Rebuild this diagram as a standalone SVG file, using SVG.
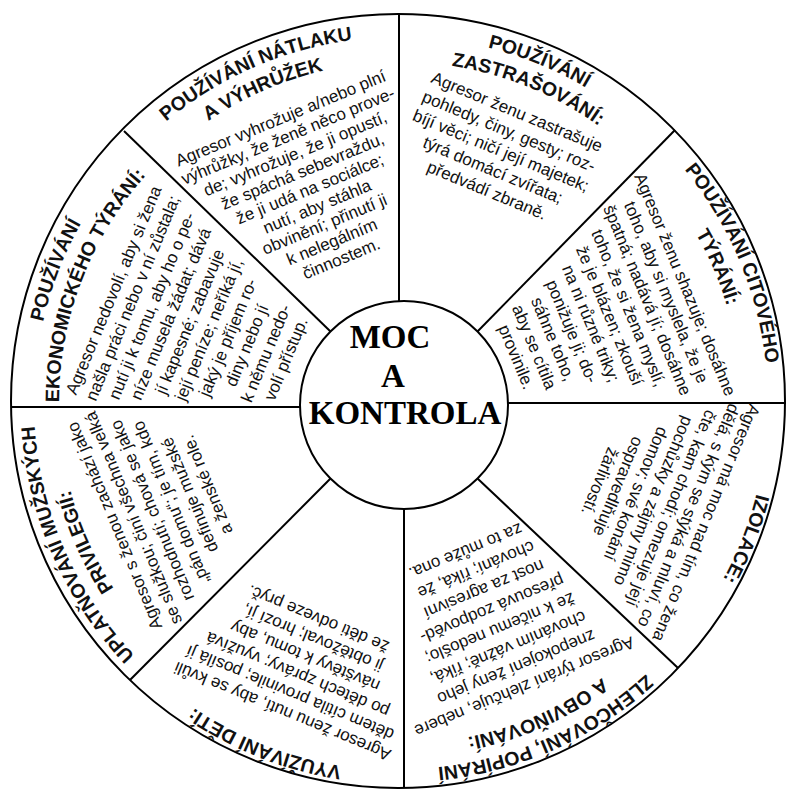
<svg xmlns="http://www.w3.org/2000/svg" xmlns:xlink="http://www.w3.org/1999/xlink" width="786" height="790" viewBox="0 0 786 790">
<defs>
<style>
.ttl{font-family:"Liberation Sans",Arial,sans-serif;font-weight:bold;font-size:19.5px;fill:#111}
.bd{font-family:"Liberation Sans",Arial,sans-serif;font-size:17px;fill:#111;text-anchor:middle}
.ctr{font-family:"Liberation Serif","Times New Roman",serif;font-weight:bold;font-size:33px;fill:#000;text-anchor:middle}
.ln{stroke:#000;stroke-width:2;fill:none}
</style>
<path id="a366" d="M -235.3 -280.4 A 366 366 0 0 1 235.3 -280.4"/>
<path id="a368" d="M -236.5 -281.9 A 368 368 0 0 1 236.5 -281.9"/>
<path id="a341" d="M -219.2 -261.2 A 341 341 0 0 1 219.2 -261.2"/>
</defs>
<rect width="786" height="790" fill="#fff"/>
<circle class="ln" cx="398" cy="401" r="387"/>
<g id="spokes" class="ln">
<line x1="399" y1="15" x2="399" y2="301"/>
<line x1="404" y1="509" x2="404" y2="788"/>
<line x1="11" y1="407" x2="300" y2="407"/>
<line x1="508" y1="403" x2="786" y2="403"/>
<line x1="124" y1="131" x2="330.5" y2="331.5"/>
<line x1="477.5" y1="331.5" x2="675" y2="130"/>
<line x1="477.5" y1="478.5" x2="678" y2="668"/>
<line x1="330.5" y1="478.5" x2="130" y2="680"/>
</g>
<g id="center">
<circle class="ln" cx="404" cy="405" r="104"/>
<text class="ctr" x="390" y="348">MOC</text>
<text class="ctr" x="393" y="387">A</text>
<text class="ctr" x="405" y="424">KONTROLA</text>
</g>
<g id="natlak" transform="translate(400 403) rotate(-22.5)">
<text class="ttl" text-anchor="middle"><textPath xlink:href="#a366" startOffset="248.5">POUŽÍVÁNÍ NÁTLAKU</textPath></text>
<text class="ttl" text-anchor="middle"><textPath xlink:href="#a341" startOffset="231.5">A VÝHRŮŽEK</textPath></text>
<text class="bd">
<tspan x="1" y="-303">Agresor vyhrožuje a/nebo plní</tspan>
<tspan x="1" y="-283.9">výhrůžky, že ženě něco prove-</tspan>
<tspan x="1" y="-264.8">de; vyhrožuje, že ji opustí,</tspan>
<tspan x="1" y="-245.7">že spáchá sebevraždu,</tspan>
<tspan x="1" y="-226.6">že ji udá na sociálce;</tspan>
<tspan x="1" y="-207.5">nutí, aby stáhla</tspan>
<tspan x="1" y="-188.4">obvinění; přinutí ji</tspan>
<tspan x="1" y="-169.3">k nelegálním</tspan>
<tspan x="1" y="-150.2">činnostem.</tspan>
</text>
</g>
<g id="zastrasovani" transform="translate(400 403) rotate(22.5)">
<text class="ttl" text-anchor="middle"><textPath xlink:href="#a366" startOffset="253.5">POUŽÍVÁNÍ</textPath></text>
<text class="ttl" text-anchor="middle"><textPath xlink:href="#a341" startOffset="236">ZASTRAŠOVÁNÍ:</textPath></text>
<text class="bd">
<tspan x="-1" y="-308">Agresor ženu zastrašuje</tspan>
<tspan x="-1" y="-287">pohledy, činy, gesty; roz-</tspan>
<tspan x="-1" y="-266">bíjí věci; ničí její majetek;</tspan>
<tspan x="-1" y="-245">týrá domácí zvířata;</tspan>
<tspan x="-1" y="-224">předvádí zbraně.</tspan>
</text>
</g>
<g id="citove" transform="translate(400 403) rotate(67.5)">
<text class="ttl" text-anchor="middle"><textPath xlink:href="#a368" startOffset="255">POUŽÍVÁNÍ CITOVÉHO</textPath></text>
<text class="ttl" text-anchor="middle"><textPath xlink:href="#a341" startOffset="234">TÝRÁNÍ:</textPath></text>
<text class="bd">
<tspan x="2" y="-303">Agresor ženu shazuje; dosáhne</tspan>
<tspan x="2" y="-282.6">toho, aby si myslela, že je</tspan>
<tspan x="2" y="-262.2">špatná; nadává jí; dosáhne</tspan>
<tspan x="2" y="-241.8">toho, že si žena myslí,</tspan>
<tspan x="2" y="-221.4">že je blázen; zkouší</tspan>
<tspan x="2" y="-201">na ni různé triky;</tspan>
<tspan x="2" y="-180.6">ponižuje ji; do-</tspan>
<tspan x="2" y="-160.2">sáhne toho,</tspan>
<tspan x="2" y="-139.8">aby se cítila</tspan>
<tspan x="2" y="-119.4">provinile.</tspan>
</text>
</g>
<g id="izolace" transform="translate(400 403) rotate(112.5)">
<text class="ttl" text-anchor="middle"><textPath xlink:href="#a368" startOffset="250">IZOLACE:</textPath></text>
<text class="bd">
<tspan x="-4" y="-323">Agresor má moc nad tím, co žena</tspan>
<tspan x="-4" y="-304">dělá, s kým se stýká a mluví, co</tspan>
<tspan x="-4" y="-285">čte, kam chodí; omezuje její</tspan>
<tspan x="-4" y="-266">pochůzky a zájmy mimo</tspan>
<tspan x="-4" y="-247">domov; své konání</tspan>
<tspan x="-4" y="-228">ospravedlňuje</tspan>
<tspan x="-4" y="-209">žárlivostí.</tspan>
</text>
</g>
<g id="zlehcovani" transform="translate(400 403) rotate(157.5)">
<text class="ttl" text-anchor="middle"><textPath xlink:href="#a366" startOffset="245.5">ZLEHČOVÁNÍ, POPÍRÁNÍ</textPath></text>
<text class="ttl" text-anchor="middle"><textPath xlink:href="#a341" startOffset="230">A OBVIŇOVÁNÍ:</textPath></text>
<text class="bd">
<tspan x="-4" y="-304">Agresor týrání zlehčuje, nebere</tspan>
<tspan x="-4" y="-282.9">znepokojení ženy jeho</tspan>
<tspan x="-4" y="-261.8">chováním vážně; říká,</tspan>
<tspan x="-4" y="-240.7">že k ničemu nedošlo;</tspan>
<tspan x="-4" y="-219.6">přesouvá zodpověd-</tspan>
<tspan x="-4" y="-198.5">nost za agresivní</tspan>
<tspan x="-4" y="-177.4">chování; říká, že</tspan>
<tspan x="-4" y="-156.3">za to může ona.</tspan>
</text>
</g>
<g id="deti" transform="translate(400 403) rotate(202.5)">
<text class="ttl" text-anchor="middle"><textPath xlink:href="#a368" startOffset="251">VYUŽÍVÁNÍ DĚTÍ:</textPath></text>
<text class="bd">
<tspan x="-7" y="-324">Agresor ženu nutí, aby se kvůli</tspan>
<tspan x="-7" y="-304.2">dětem cítila provinile; posílá jí</tspan>
<tspan x="-7" y="-284.4">po dětech zprávy; využívá</tspan>
<tspan x="-7" y="-264.6">návštěvy k tomu, aby</tspan>
<tspan x="-7" y="-244.8">ji obtěžoval; hrozí jí,</tspan>
<tspan x="-7" y="-225">že děti odveze pryč.</tspan>
</text>
</g>
<g id="privilegia" transform="translate(400 403) rotate(-112.5)">
<text class="ttl" text-anchor="middle"><textPath xlink:href="#a366" startOffset="248.5">UPLATŇOVÁNÍ MUŽSKÝCH</textPath></text>
<text class="ttl" text-anchor="middle"><textPath xlink:href="#a341" startOffset="230">PRIVILEGIÍ:</textPath></text>
<text class="bd">
<tspan x="-2" y="-305">Agresor s ženou zachází jako</tspan>
<tspan x="-2" y="-284.7">se služkou; činí všechna velká</tspan>
<tspan x="-2" y="-264.4">rozhodnutí; chová se jako</tspan>
<tspan x="-2" y="-244.1">„pán domu“; je tím, kdo</tspan>
<tspan x="-2" y="-223.8">definuje mužské</tspan>
<tspan x="-2" y="-203.5">a ženské role.</tspan>
</text>
</g>
<g id="ekonomicke" transform="translate(400 403) rotate(-67.5)">
<text class="ttl" text-anchor="middle"><textPath xlink:href="#a366" startOffset="246.5">POUŽÍVÁNÍ</textPath></text>
<text class="ttl" text-anchor="middle"><textPath xlink:href="#a341" startOffset="229">EKONOMICKÉHO TÝRÁNÍ:</textPath></text>
<text class="bd">
<tspan x="-3" y="-302">Agresor nedovolí, aby si žena</tspan>
<tspan x="-3" y="-281.4">našla práci nebo v ní zůstala;</tspan>
<tspan x="-3" y="-260.8">nutí ji k tomu, aby ho o pe-</tspan>
<tspan x="-3" y="-240.2">níze musela žádat; dává</tspan>
<tspan x="-3" y="-219.6">jí kapesné; zabavuje</tspan>
<tspan x="-3" y="-199">její peníze; neříká jí,</tspan>
<tspan x="-3" y="-178.4">jaký je příjem ro-</tspan>
<tspan x="-3" y="-157.8">diny nebo jí</tspan>
<tspan x="-3" y="-137.2">k němu nedo-</tspan>
<tspan x="-3" y="-116.6">volí přístup.</tspan>
</text>
</g>
</svg>
